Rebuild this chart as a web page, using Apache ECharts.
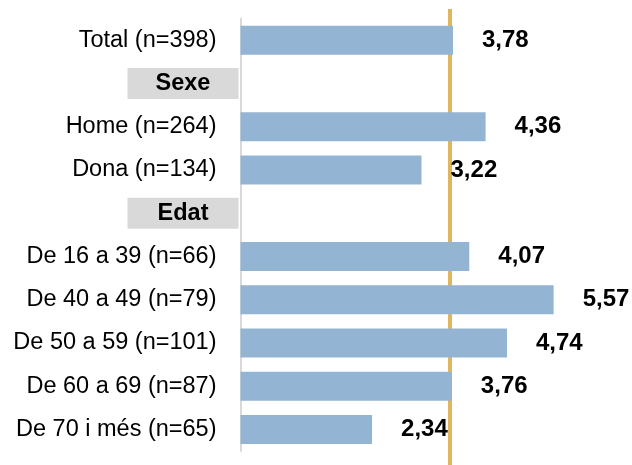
<!DOCTYPE html>
<html>
<head>
<meta charset="utf-8">
<script src="https://cdn.jsdelivr.net/npm/echarts@6/dist/echarts.min.js"></script>
<style>
  html, body { margin: 0; padding: 0; background: #fff; }
  #myChartBar { width: 632px; height: 465px; }
</style>
</head>
<body>
<div id="myChartBar"></div>
<script>
  // dades del gràfic
  var categories = ['Total (n=398)', 'Sexe', 'Home (n=264)', 'Dona (n=134)', 'Edat',
    'De 16 a 39 (n=66)', 'De 40 a 49 (n=79)', 'De 50 a 59 (n=101)', 'De 60 a 69 (n=87)', 'De 70 i més (n=65)'];
  var values = [3.78, null, 4.36, 3.22, null, 4.07, 5.57, 4.74, 3.76, 2.34];
  var headers = ['Sexe', 'Edat'];
  var referenceValue = [3.73];

  var font = 'Liberation Sans, Arial, sans-serif';
  var gridLeft = 240.5, gridWidth = 337.3, xMax = 6;

  var myChart = echarts.init(document.getElementById('myChartBar'));
  myChart.setOption({
    animation: false,
    textStyle: { fontFamily: font },
    grid: [
      { left: gridLeft, width: gridWidth, top: 18.5, bottom: 14 },
      { left: gridLeft, width: gridWidth, top: 9, bottom: 0 }   // línia de referència
    ],
    xAxis: [
      { type: 'value', gridIndex: 0, min: 0, max: xMax, show: false, splitLine: { show: false } },
      { type: 'value', gridIndex: 1, min: 0, max: xMax, show: false, splitLine: { show: false } }
    ],
    yAxis: [
      {
        type: 'category',
        gridIndex: 0,
        inverse: true,
        data: categories,
        axisTick: { show: false },
        axisLine: { show: true, lineStyle: { color: '#d9d9d9', width: 2 } },
        axisLabel: {
          margin: 2,
          formatter: function (v) {
            return headers.indexOf(v) >= 0 ? '{h|' + v + '}' : '{n|' + v + '}';
          },
          rich: {
            n: { fontSize: 23.5, color: '#000', fontFamily: font, padding: [0, 22, 0, 0] },
            h: {
              fontSize: 23.5, color: '#000', fontFamily: font, fontWeight: 'bold',
              backgroundColor: '#d9d9d9', width: 111, height: 31, lineHeight: 31, align: 'center'
            }
          }
        }
      },
      { type: 'value', gridIndex: 1, min: 0, max: 1, show: false, splitLine: { show: false } }
    ],
    series: [
      {
        type: 'bar',
        xAxisIndex: 0,
        yAxisIndex: 0,
        z: 3,
        barWidth: 29,
        data: values,
        itemStyle: { color: '#93b5d3' },
        label: {
          show: true,
          position: 'right',
          distance: 29,
          color: '#000',
          fontSize: 24,
          fontWeight: 'bold',
          fontFamily: font,
          formatter: function (p) { return p.value.toFixed(2).replace('.', ','); }
        }
      },
      {
        type: 'line',
        xAxisIndex: 1,
        yAxisIndex: 1,
        z: 1,
        data: [],
        markLine: {
          z: 1,
          silent: true,
          symbol: 'none',
          label: { show: false },
          lineStyle: { color: '#dfb65f', width: 4, type: 'solid' },
          data: referenceValue.map(function (v) { return { xAxis: v }; })
        }
      }
    ]
  });
</script>
</body>
</html>
